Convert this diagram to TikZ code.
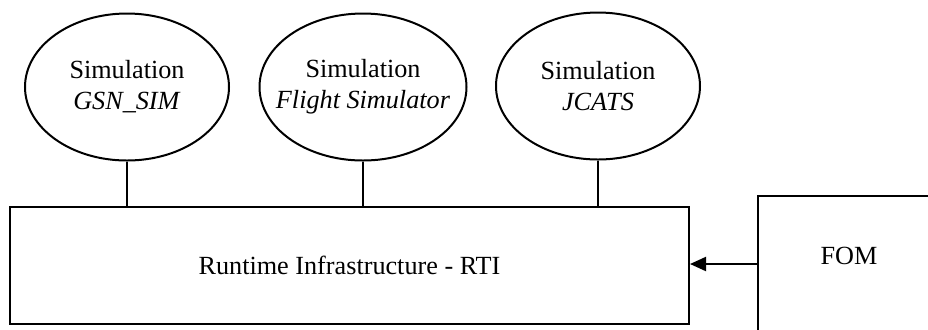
\documentclass[tikz,border=0pt]{standalone}
\usepackage{fontspec}
\setmainfont{Liberation Serif}
\usepackage{tikz}
\usetikzlibrary{shapes.geometric, arrows.meta, positioning, calc}

\begin{document}
\begin{tikzpicture}[x=0.5pt, y=-0.5pt,
    font=\fontsize{13.1}{15.5}\selectfont,
    every path/.style={line width=1pt},
    simnode/.style={draw, ellipse, line width=1pt, minimum width=102pt, minimum height=73.5pt, inner sep=0pt, align=center},
    rtibox/.style={draw, rectangle, line width=1pt, minimum width=339.5pt, minimum height=58.5pt},
    fombox/.style={draw, rectangle, line width=1pt, anchor=north west, minimum width=91pt, inner xsep=0pt, inner ysep=0pt, text height=34pt, text depth=41pt}]
    \useasboundingbox (0,0) rectangle (928,329);

    % Simulations
    \node[simnode] (gsnsim) at (127,87) {Simulation\\\textit{GSN\_SIM}};
    \node[simnode, minimum width=103.5pt, inner xsep=-8pt] (flightsim) at (363,87) {Simulation\\\textit{Flight Simulator}};
    \node[simnode] (jcats) at (598,86) {Simulation\\\textit{JCATS}};

    % RTI and FOM
    \node[rtibox] (rti) at (349.5,265.5) {Runtime Infrastructure - RTI};
    \node[fombox] (fom) at (757,195) {FOM};

    % Connectors
    \draw (gsnsim.south) -- (gsnsim.south |- rti.north);
    \draw (flightsim.south) -- (flightsim.south |- rti.north);
    \draw (jcats.south) -- (jcats.south |- rti.north);
    \draw[-{Triangle[length=8pt, width=7pt]}] (fom.west |- 0,264) -- (rti.east |- 0,264);
\end{tikzpicture}
\end{document}
